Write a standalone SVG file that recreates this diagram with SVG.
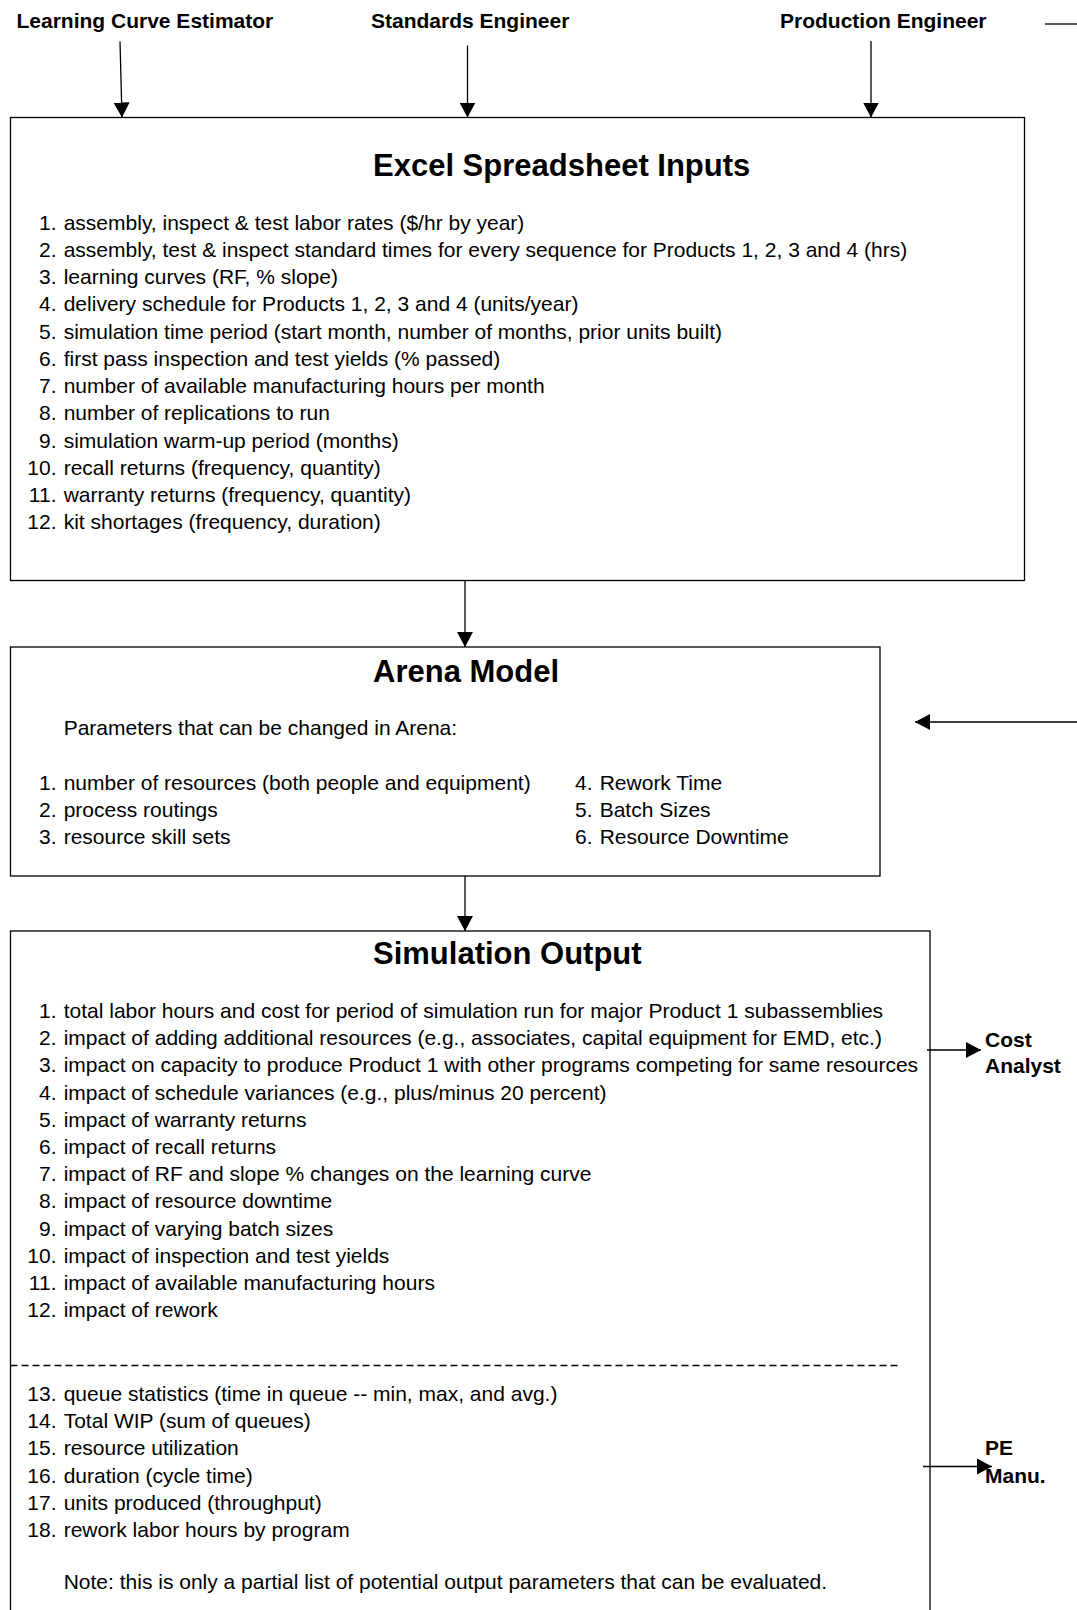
<svg xmlns="http://www.w3.org/2000/svg" width="1077" height="1610" viewBox="0 0 1077 1610">
<style>
.box{fill:#fff;stroke:#000;stroke-width:1.3}
.t{font-family:"Liberation Sans",Arial,sans-serif;font-size:21px;fill:#000}
.b{font-family:"Liberation Sans",Arial,sans-serif;font-size:21px;font-weight:bold;fill:#000}
.h{font-family:"Liberation Sans",Arial,sans-serif;font-size:31px;font-weight:bold;fill:#000}
.n{text-anchor:end}
.c{stroke:#000;stroke-width:1.3;fill:none}
</style>
<defs>
<marker id="ah" viewBox="0 0 15 16" refX="15" refY="8" markerWidth="15" markerHeight="16" markerUnits="userSpaceOnUse" orient="auto">
<path d="M0,0 L15,8 L0,16 z" fill="#000"/>
</marker>
</defs>
<rect width="1077" height="1610" fill="#fff"/>

<g id="learning-curve-estimator"><text class="b" x="16.5" y="28">Learning Curve Estimator</text></g>
<g id="standards-engineer"><text class="b" x="371" y="28">Standards Engineer</text></g>
<g id="production-engineer"><text class="b" x="780" y="28">Production Engineer</text></g>

<g id="excel-inputs">
<rect class="box" x="10.5" y="117.5" width="1014" height="463"/>
<text class="h" x="373" y="176">Excel Spreadsheet Inputs</text>
<g class="t">
<text class="n" x="56.5" y="229.5">1.</text><text x="63.7" y="229.5">assembly, inspect &amp; test labor rates ($/hr by year)</text>
<text class="n" x="56.5" y="256.75">2.</text><text x="63.7" y="256.75">assembly, test &amp; inspect standard times for every sequence for Products 1, 2, 3 and 4 (hrs)</text>
<text class="n" x="56.5" y="284">3.</text><text x="63.7" y="284">learning curves (RF, % slope)</text>
<text class="n" x="56.5" y="311.25">4.</text><text x="63.7" y="311.25">delivery schedule for Products 1, 2, 3 and 4 (units/year)</text>
<text class="n" x="56.5" y="338.5">5.</text><text x="63.7" y="338.5">simulation time period (start month, number of months, prior units built)</text>
<text class="n" x="56.5" y="365.75">6.</text><text x="63.7" y="365.75">first pass inspection and test yields (% passed)</text>
<text class="n" x="56.5" y="393">7.</text><text x="63.7" y="393">number of available manufacturing hours per month</text>
<text class="n" x="56.5" y="420.25">8.</text><text x="63.7" y="420.25">number of replications to run</text>
<text class="n" x="56.5" y="447.5">9.</text><text x="63.7" y="447.5">simulation warm-up period (months)</text>
<text class="n" x="56.5" y="474.75">10.</text><text x="63.7" y="474.75">recall returns (frequency, quantity)</text>
<text class="n" x="56.5" y="502">11.</text><text x="63.7" y="502">warranty returns (frequency, quantity)</text>
<text class="n" x="56.5" y="529.25">12.</text><text x="63.7" y="529.25">kit shortages (frequency, duration)</text>
</g>
</g>

<g id="arena-model">
<rect class="box" x="10.5" y="647" width="869.5" height="229"/>
<text class="h" x="373" y="682">Arena Model</text>
<g class="t">
<text x="63.7" y="735">Parameters that can be changed in Arena:</text>
<text class="n" x="56.5" y="789.5">1.</text><text x="63.7" y="789.5">number of resources (both people and equipment)</text>
<text class="n" x="56.5" y="816.5">2.</text><text x="63.7" y="816.5">process routings</text>
<text class="n" x="56.5" y="843.5">3.</text><text x="63.7" y="843.5">resource skill sets</text>
<text class="n" x="592.5" y="789.5">4.</text><text x="599.7" y="789.5">Rework Time</text>
<text class="n" x="592.5" y="816.5">5.</text><text x="599.7" y="816.5">Batch Sizes</text>
<text class="n" x="592.5" y="843.5">6.</text><text x="599.7" y="843.5">Resource Downtime</text>
</g>
</g>

<g id="simulation-output">
<rect class="box" x="10.5" y="931" width="919.5" height="700"/>
<text class="h" x="373" y="964">Simulation Output</text>
<g class="t">
<text class="n" x="56.5" y="1018">1.</text><text x="63.7" y="1018">total labor hours and cost for period of simulation run for major Product 1 subassemblies</text>
<text class="n" x="56.5" y="1045.2">2.</text><text x="63.7" y="1045.2">impact of adding additional resources (e.g., associates, capital equipment for EMD, etc.)</text>
<text class="n" x="56.5" y="1072.4">3.</text><text x="63.7" y="1072.4">impact on capacity to produce Product 1 with other programs competing for same resources</text>
<text class="n" x="56.5" y="1099.6">4.</text><text x="63.7" y="1099.6">impact of schedule variances (e.g., plus/minus 20 percent)</text>
<text class="n" x="56.5" y="1126.8">5.</text><text x="63.7" y="1126.8">impact of warranty returns</text>
<text class="n" x="56.5" y="1154">6.</text><text x="63.7" y="1154">impact of recall returns</text>
<text class="n" x="56.5" y="1181.2">7.</text><text x="63.7" y="1181.2">impact of RF and slope % changes on the learning curve</text>
<text class="n" x="56.5" y="1208.4">8.</text><text x="63.7" y="1208.4">impact of resource downtime</text>
<text class="n" x="56.5" y="1235.6">9.</text><text x="63.7" y="1235.6">impact of varying batch sizes</text>
<text class="n" x="56.5" y="1262.8">10.</text><text x="63.7" y="1262.8">impact of inspection and test yields</text>
<text class="n" x="56.5" y="1290">11.</text><text x="63.7" y="1290">impact of available manufacturing hours</text>
<text class="n" x="56.5" y="1317.2">12.</text><text x="63.7" y="1317.2">impact of rework</text>
<text class="n" x="56.5" y="1401">13.</text><text x="63.7" y="1401">queue statistics (time in queue -- min, max, and avg.)</text>
<text class="n" x="56.5" y="1428.2">14.</text><text x="63.7" y="1428.2">Total WIP (sum of queues)</text>
<text class="n" x="56.5" y="1455.4">15.</text><text x="63.7" y="1455.4">resource utilization</text>
<text class="n" x="56.5" y="1482.6">16.</text><text x="63.7" y="1482.6">duration (cycle time)</text>
<text class="n" x="56.5" y="1509.8">17.</text><text x="63.7" y="1509.8">units produced (throughput)</text>
<text class="n" x="56.5" y="1537">18.</text><text x="63.7" y="1537">rework labor hours by program</text>
<text x="63.7" y="1588.5">Note: this is only a partial list of potential output parameters that can be evaluated.</text>
</g>
<line x1="10.5" y1="1365.5" x2="901" y2="1365.5" stroke="#000" stroke-width="1.3" stroke-dasharray="7 4"/>
</g>

<g id="cost-analyst"><text class="b" x="985" y="1046.5">Cost</text><text class="b" x="985" y="1073">Analyst</text></g>
<g id="pe-manu"><text class="b" x="985" y="1455">PE</text><text class="b" x="985" y="1483">Manu.</text></g>

<g id="connectors">
<line class="c" x1="120" y1="41.5" x2="122" y2="117.5" marker-end="url(#ah)"/>
<line class="c" x1="467.5" y1="45.5" x2="467.5" y2="117.5" marker-end="url(#ah)"/>
<line class="c" x1="871" y1="41" x2="871" y2="117.5" marker-end="url(#ah)"/>
<line class="c" x1="1045" y1="24" x2="1077" y2="24"/>
<line class="c" x1="465" y1="580.5" x2="465" y2="647" marker-end="url(#ah)"/>
<line class="c" x1="465" y1="876" x2="465" y2="931" marker-end="url(#ah)"/>
<line class="c" x1="1077" y1="722" x2="915" y2="722" marker-end="url(#ah)"/>
<line class="c" x1="927" y1="1050" x2="981" y2="1050" marker-end="url(#ah)"/>
<line class="c" x1="923" y1="1466.5" x2="992" y2="1466.5" marker-end="url(#ah)"/>
</g>
</svg>
